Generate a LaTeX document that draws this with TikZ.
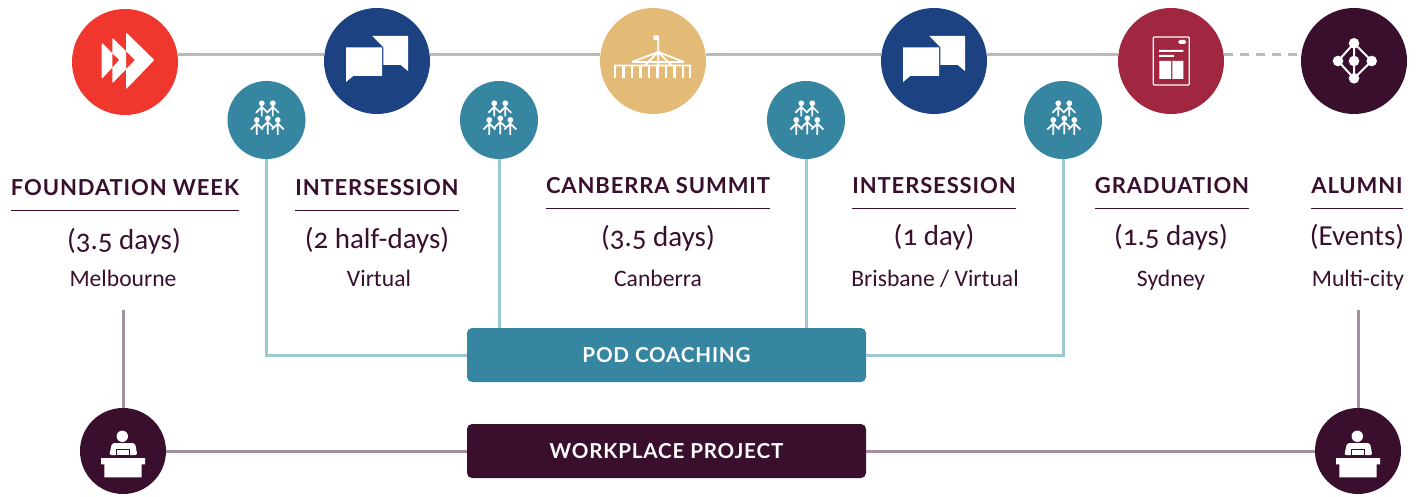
\documentclass[tikz,border=0pt]{standalone}
\usepackage{fontspec}
\setmainfont[Numbers=OldStyle]{Carlito}
\newfontfamily\titlefont[LetterSpace=4]{Lato}
\usetikzlibrary{positioning}
\definecolor{fastred}{HTML}{F0372D}
\definecolor{navy}{HTML}{1C4282}
\definecolor{sand}{HTML}{E3BB77}
\definecolor{wine}{HTML}{A0273F}
\definecolor{plum}{HTML}{3A0F2D}
\definecolor{pod}{HTML}{3786A1}
\definecolor{podline}{HTML}{9CC8D0}
\definecolor{plumline}{HTML}{A48FA1}
\definecolor{greyline}{HTML}{B9B9B9}
\tikzset{
  stage/.style={circle, fill=#1, minimum size=106pt, inner sep=0},
  podstop/.style={circle, fill=pod, minimum size=78pt, inner sep=0},
  desk/.style={circle, fill=plum, minimum size=86pt, inner sep=0},
  bar/.style={rectangle, rounded corners=5pt, fill=#1, text=white, minimum width=399pt, minimum height=54pt, inner sep=0, font=\titlefont\bfseries\fontsize{20.6}{24}\selectfont},
  title/.style={anchor=base, inner sep=0, text=plum, font=\titlefont\bfseries\fontsize{22}{26}\selectfont},
  days/.style={anchor=base, inner sep=0, text=plum, font=\fontsize{29}{34}\selectfont},
  place/.style={anchor=base, inner sep=0, text=plum, font=\fontsize{23.6}{28}\selectfont},
  ffwd/.pic={
    \fill[white, even odd rule, rounded corners=1pt]
      (-23.3,-19.3) -- (-5.7,-2) -- (-23.3,17) -- cycle
      (-12.7,-24.3) -- (10,-2) -- (-12.7,21.3) -- cycle
      (1,-29.7) -- (29.3,-2) -- (1,27.3) -- cycle;
  },
  chat/.pic={
    \fill[white] (-4.7,-25) -- (31,-25) -- (31,10) -- (23.7,4) -- (6.3,4) -- (6.3,-13.7) -- cycle;
    \fill[navy] (-3.3,-23) -- (5.5,-14) -- (-3.3,-14) -- cycle;
    \fill[white] (-31,-13.7) -- (5,-13.7) -- (5,15) -- (-23.7,15) -- (-31,21) -- cycle;
  },
  house/.pic={
    \fill[white] (5.3,-25.5) -- (0.3,-25.5) -- (0.6,-21) -- (5.3,-21) -- cycle;
    \draw[white, line width=1.8pt] (5.3,-25) -- (5.3,-9) (5.3,-9) -- (-21,1) (5.3,-9) -- (31,1)
      (-21,1) -- (31,1) (-39,4.5) -- (38,4.5)
      (5.3,-9) -- (-8,4) (5.3,-9) -- (18,4) (5.3,-9) -- (5.3,4);
    \foreach \colx in {-38,-29.5,-21,-12.5,-4,4.5,13,21.5,30,37}
      \draw[white, line width=2.4pt] (\colx,4.5) -- (\colx,17);
  },
  paper/.pic={
    \draw[white, line width=1.3pt, rounded corners=1pt] (-17.7,-24) rectangle (18.3,24);
    \fill[white, rounded corners=1.5pt] (7.3,-21) rectangle (15,-17);
    \fill[white] (-12,-11) rectangle (12.3,-9.2) (-12,-6) rectangle (3,-4.2)
      (-11.7,0) rectangle (0,18) (1.3,0) rectangle (12.3,18);
  },
  network/.pic={
    \draw[white, line width=2pt] (0,-17.7) -- (-16,0) -- (0,17.3) -- (17.7,0) -- cycle (0,-17.7) -- (0,17.3);
    \foreach \hubx/\huby in {0/-17.7,-16/0,17.7/0,0/17.3,0/0}
      \fill[white] (\hubx,\huby) circle (5.3);
  },
  people/.pic={
    \foreach \manx/\many/\manh in {-4.7/-16.7/10,6.3/-16.7/10,-9.7/0/12,1.3/-1.7/13,11.3/0/12}{
      \fill[white] (\manx,\many) circle (2.9);
      \draw[white, line width=1.7pt] (\manx,\many+3) -- (\manx,\many+3+\manh)
        (\manx-6,\many+9.5) -- (\manx,\many+3.5) -- (\manx+6,\many+9.5);
    }
  },
  speaker/.pic={
    \fill[white] (-0.7,-14.7) circle (5.7);
    \fill[white, rounded corners=2pt] (-13.7,4) -- (-11,-8) -- (12,-8) -- (14.3,4) -- cycle;
    \fill[white] (-22,7) rectangle (22,13.3) (-18.7,13.3) rectangle (18.7,26.3);
    \draw[plum, line width=1pt, fill=white] (-6.3,-2) rectangle (6.3,4.5);
  },
}
\begin{document}
\begin{tikzpicture}[x=1pt, y=-1pt, every node/.style={align=center}]
\useasboundingbox (0,0) rectangle (1419,497);
% top row
\node[stage=fastred] (foundation) at (125,62) {};
\node[stage=navy] (chatA) at (377,61) {};
\node[stage=sand] (summit) at (653,61) {};
\node[stage=navy] (chatB) at (934,61) {};
\node[stage=wine] (grad) at (1171,61) {};
\node[stage=plum] (alumni) at (1354,61) {};
\pic at (foundation) {ffwd};
\pic at (chatA) {chat};
\pic at (summit) {house};
\pic at (chatB) {chat};
\pic at (grad) {paper};
\pic at (alumni) {network};
% coaching stops
\node[podstop] (podA) at (266.5,120) {};
\node[podstop] (podB) at (499,120) {};
\node[podstop] (podC) at (806,120) {};
\node[podstop] (podD) at (1063,120) {};
\foreach \stop in {podA,podB,podC,podD}
  \pic at (\stop) {people};
% bars
\node[bar=pod] (coaching) at (666.5,355) {POD COACHING};
\node[bar=plum] (project) at (666.5,451) {WORKPLACE PROJECT};
\node[desk] (deskA) at (123,451) {};
\node[desk] (deskB) at (1358,451) {};
\pic at (deskA) {speaker};
\pic at (deskB) {speaker};
% labels
\node[title] (tFoundation) at (125,196) {FOUNDATION WEEK};
\node[title] (tInterA) at (377,196) {INTERSESSION};
\node[title] (tSummit) at (658,194) {CANBERRA SUMMIT};
\node[title] (tInterB) at (934,194) {INTERSESSION};
\node[title] (tGrad) at (1172,194) {GRADUATION};
\node[title] (tAlumni) at (1357,194) {ALUMNI};
\foreach \lab in {tFoundation,tInterA,tSummit,tInterB,tGrad,tAlumni}
  \draw[plum, line width=1pt] ([yshift=-15pt]\lab.base west) -- ([yshift=-15pt]\lab.base east);
\node[days] (dFoundation) at (124,249) {(3.5 days)};
\node[days] (dInterA) at (377,248) {(2 half-days)};
\node[days] (dSummit) at (658,247) {(3.5 days)};
\node[days] (dInterB) at (934,246) {(1 day)};
\node[days] (dGrad) at (1171,246) {(1.5 days)};
\node[days] (dAlumni) at (1357,245) {(Events)};
\node[place] (pFoundation) at (123,287) {Melbourne};
\node[place] (pInterA) at (379,287) {Virtual};
\node[place] (pSummit) at (658,287) {Canberra};
\node[place] (pInterB) at (935,287) {Brisbane / Virtual};
\node[place] (pGrad) at (1171,287) {Sydney};
\node[place] (pAlumni) at (1358,287) {Multi-city};
\coordinate (footA) at (123,310);
\coordinate (footB) at (1358,310);
% connectors
\draw[greyline, line width=3.5pt] (foundation.8 |- chatA.173) -- (chatA.173);
\draw[greyline, line width=3.5pt] (chatA.7) -- (summit.173);
\draw[greyline, line width=3.5pt] (summit.7) -- (chatB.173);
\draw[greyline, line width=3.5pt] (chatB.7) -- (grad.173);
\draw[greyline, line width=3.5pt, dash pattern=on 9pt off 7pt] (grad.7) -- (alumni.173);
\draw[podline, line width=3pt] (podA.south) |- (coaching.west);
\draw[podline, line width=3pt] (podB.south) -- (podB.south |- coaching.north);
\draw[podline, line width=3pt] (podC.south) -- (podC.south |- coaching.north);
\draw[podline, line width=3pt] (podD.south) |- (coaching.east);
\draw[plumline, line width=3pt] (footA) -- (deskA.north);
\draw[plumline, line width=3pt] (footB) -- (deskB.north);
\draw[plumline, line width=3pt] (deskA.east) -- (project.west);
\draw[plumline, line width=3pt] (project.east) -- (deskB.west);
\end{tikzpicture}
\end{document}
